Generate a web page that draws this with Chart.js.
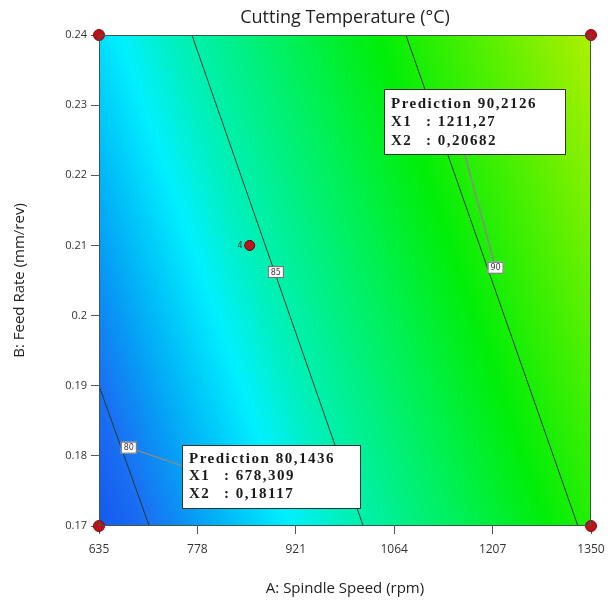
<!DOCTYPE html>
<html>
<head>
<meta charset="utf-8">
<script src="https://cdn.jsdelivr.net/npm/chart.js@4.4.1/dist/chart.umd.min.js"></script>
<style>
  html, body { margin: 0; padding: 0; background: #fff; }
  #wrap { width: 614px; height: 605px; }
</style>
</head>
<body>
<div id="wrap"><canvas id="chart"></canvas></div>
<script>
// axis ticks
const xTicks = [635, 778, 921, 1064, 1207, 1350];
const yTicks = [0.17, 0.18, 0.19, 0.2, 0.21, 0.22, 0.23, 0.24];

// contour lines (straight), start / end points in data units
const contourLevels = [80, 85, 90];
const contourSpeedStart = [635, 770, 1081];
const contourFeedStart = [0.19, 0.24, 0.24];
const contourSpeedEnd = [708, 1019, 1331];
const contourFeedEnd = [0.17, 0.17, 0.17];

// contour label boxes
const labelText = ['80', '85', '90'];
const labelSpeed = [678.309, 892, 1211.27];
const labelFeed = [0.18117, 0.2062, 0.20682];

// design points
const cornerSpeed = [635, 635, 1350, 1350];
const cornerFeed = [0.17, 0.24, 0.17, 0.24];
const centreSpeed = [854];
const centreFeed = [0.21];
const centreLabel = ['4'];

// flagged predictions
const flagPrediction = ['80,1436', '90,2126'];
const flagX1 = ['678,309', '1211,27'];
const flagX2 = ['0,18117', '0,20682'];
const flagSpeed = [678.309, 1211.27];
const flagFeed = [0.18117, 0.20682];

// colour scale for the temperature field
const tempStops = [78.8, 80, 81, 82, 83.3, 84.5, 86, 87.5, 89.3, 92, 94.5];
const tempColors = ['#1458ee', '#1a70f2', '#0898f5', '#00c0f8', '#00f0ff', '#00f0c0',
                    '#00f088', '#00f050', '#00ee08', '#5cf000', '#b4f000'];

const contourData = contourLevels.map((lv, i) => ({
  type: 'scatter',
  label: String(lv),
  data: [{x: contourSpeedStart[i], y: contourFeedStart[i]}, {x: contourSpeedEnd[i], y: contourFeedEnd[i]}],
  showLine: true,
  borderColor: '#1d3b30',
  borderWidth: 1,
  pointRadius: 0
}));

// box placement relative to the flagged point: [dx, dy, w, h, leaderX, leaderY]
const flagBox = [[53, -3, 178, 63, 0, 21], [-112, -179, 181, 65, 81, 65]];

const fieldPlugin = {
  id: 'field',
  beforeDraw(chart) {
    const {ctx, chartArea: a, scales: {x, y}} = chart;
    // pixel geometry of 85 and 90 contours
    const p1 = [x.getPixelForValue(contourSpeedStart[1]), y.getPixelForValue(contourFeedStart[1])];
    const p2 = [x.getPixelForValue(contourSpeedEnd[1]), y.getPixelForValue(contourFeedEnd[1])];
    const q1 = [x.getPixelForValue(contourSpeedStart[2]), y.getPixelForValue(contourFeedStart[2])];
    let ux = p2[0] - p1[0], uy = p2[1] - p1[1];
    const len = Math.hypot(ux, uy);
    ux /= len; uy /= len;
    const nx = uy, ny = -ux;
    const ppd = ((q1[0] - p1[0]) * nx + (q1[1] - p1[1]) * ny) / (contourLevels[2] - contourLevels[1]);
    const tMin = tempStops[0], tMax = tempStops[tempStops.length - 1];
    const g = ctx.createLinearGradient(
      p1[0] + nx * (tMin - 85) * ppd, p1[1] + ny * (tMin - 85) * ppd,
      p1[0] + nx * (tMax - 85) * ppd, p1[1] + ny * (tMax - 85) * ppd);
    tempStops.forEach((t, i) => g.addColorStop((t - tMin) / (tMax - tMin), tempColors[i]));
    ctx.save();
    ctx.fillStyle = g;
    ctx.fillRect(a.left, a.top, a.right - a.left, a.bottom - a.top);
    ctx.restore();
  },
  afterDatasetsDraw(chart) {
    const {ctx, chartArea: a, scales: {x, y}} = chart;
    ctx.save();
    // frame
    ctx.strokeStyle = '#3c5a48';
    ctx.lineWidth = 1;
    ctx.strokeRect(a.left + 0.5, a.top + 0.5, a.right - a.left - 1, a.bottom - a.top - 1);

    // title
    ctx.fillStyle = '#222';
    ctx.font = '18px "Open Sans"';
    ctx.textAlign = 'center';
    ctx.textBaseline = 'middle';
    ctx.fillText('Cutting Temperature (°C)', (a.left + a.right) / 2, 18);

    // leader lines of flags
    flagSpeed.forEach((s, i) => {
      const fx = x.getPixelForValue(s), fy = y.getPixelForValue(flagFeed[i]);
      const b = flagBox[i];
      ctx.strokeStyle = '#8a8a8a';
      ctx.lineWidth = 1.5;
      ctx.beginPath();
      ctx.moveTo(fx, fy);
      ctx.lineTo(fx + b[0] + b[4], fy + b[1] + b[5]);
      ctx.stroke();
    });

    // contour label boxes
    labelText.forEach((t, i) => {
      const px = x.getPixelForValue(labelSpeed[i]), py = y.getPixelForValue(labelFeed[i]);
      ctx.fillStyle = '#fff';
      ctx.fillRect(px - 8, py - 6, 16, 12);
      ctx.strokeStyle = '#666';
      ctx.lineWidth = 1;
      ctx.strokeRect(px - 7.5, py - 5.5, 15, 11);
      ctx.fillStyle = '#443344';
      ctx.font = '8px "DejaVu Sans"';
      ctx.textAlign = 'center';
      ctx.textBaseline = 'middle';
      ctx.fillText(t, px, py + 0.5);
    });

    // centre point label
    centreSpeed.forEach((s, i) => {
      ctx.fillStyle = '#333';
      ctx.font = '8px "DejaVu Sans"';
      ctx.textAlign = 'right';
      ctx.textBaseline = 'middle';
      ctx.fillText(centreLabel[i], x.getPixelForValue(s) - 7, y.getPixelForValue(centreFeed[i]));
    });

    // prediction boxes
    flagSpeed.forEach((s, i) => {
      const fx = x.getPixelForValue(s), fy = y.getPixelForValue(flagFeed[i]);
      const b = flagBox[i];
      const bx = Math.round(fx + b[0]), by = Math.round(fy + b[1]);
      ctx.fillStyle = '#fff';
      ctx.fillRect(bx, by, b[2], b[3]);
      ctx.strokeStyle = '#333';
      ctx.lineWidth = 1;
      ctx.strokeRect(bx + 0.5, by + 0.5, b[2], b[3]);
      ctx.fillStyle = '#1a1a1a';
      ctx.font = 'bold 15px "Liberation Serif"';
      ctx.letterSpacing = '1.5px';
      ctx.textAlign = 'left';
      ctx.textBaseline = 'middle';
      const c0 = by + 14 + i, lh = 17.5 + i;
      ctx.fillText('Prediction ' + flagPrediction[i], bx + 7, c0);
      ctx.fillText('X1', bx + 7, c0 + lh);
      ctx.fillText(': ' + flagX1[i], bx + 42, c0 + lh);
      ctx.fillText('X2', bx + 7, c0 + 2 * lh);
      ctx.fillText(': ' + flagX2[i], bx + 42, c0 + 2 * lh);
      ctx.letterSpacing = '0px';
    });
    ctx.restore();
  }
};

new Chart(document.getElementById('chart'), {
  type: 'scatter',
  data: {
    datasets: [
      ...contourData,
      {
        label: 'corners',
        data: cornerSpeed.map((s, i) => ({x: s, y: cornerFeed[i]})),
        pointRadius: 5.5,
        pointBackgroundColor: '#c0101a',
        pointBorderColor: '#7a0a0e',
        pointBorderWidth: 1,
        clip: false
      },
      {
        label: 'centre',
        data: centreSpeed.map((s, i) => ({x: s, y: centreFeed[i]})),
        pointRadius: 5,
        pointBackgroundColor: '#c0101a',
        pointBorderColor: '#5a0508',
        pointBorderWidth: 1
      }
    ]
  },
  options: {
    responsive: true,
    maintainAspectRatio: false,
    animation: false,
    layout: { padding: { left: 0, right: 23, top: 35, bottom: 0 } },
    plugins: {
      legend: { display: false },
      tooltip: { enabled: false },
      title: { display: false }
    },
    scales: {
      x: {
        type: 'linear',
        min: 635,
        max: 1350,
        afterBuildTicks: (s) => { s.ticks = xTicks.map(v => ({value: v})); },
        afterFit: (s) => { s.height = 79; },
        grid: { drawOnChartArea: false, drawTicks: true, tickLength: 8, color: '#555' },
        border: { display: false },
        ticks: { color: '#333', font: { family: 'Open Sans', size: 12 }, padding: 8, maxRotation: 0,
                 callback: (v) => String(v) },
        title: { display: true, text: 'A: Spindle Speed (rpm)', color: '#222',
                 font: { family: 'Open Sans', size: 15 }, padding: { top: 0, bottom: 7 } }
      },
      y: {
        type: 'linear',
        min: 0.17,
        max: 0.24,
        afterBuildTicks: (s) => { s.ticks = yTicks.map(v => ({value: v})); },
        afterFit: (s) => { s.width = 99; },
        grid: { drawOnChartArea: false, drawTicks: true, tickLength: 8, color: '#555' },
        border: { display: false },
        ticks: { color: '#333', font: { family: 'Open Sans', size: 11 }, padding: 4,
                 callback: (v) => String(v) },
        title: { display: true, text: 'B: Feed Rate (mm/rev)', color: '#222',
                 font: { family: 'Open Sans', size: 15 }, padding: { top: 11, bottom: 0 } }
      }
    }
  },
  plugins: [fieldPlugin]
});
</script>
</body>
</html>
